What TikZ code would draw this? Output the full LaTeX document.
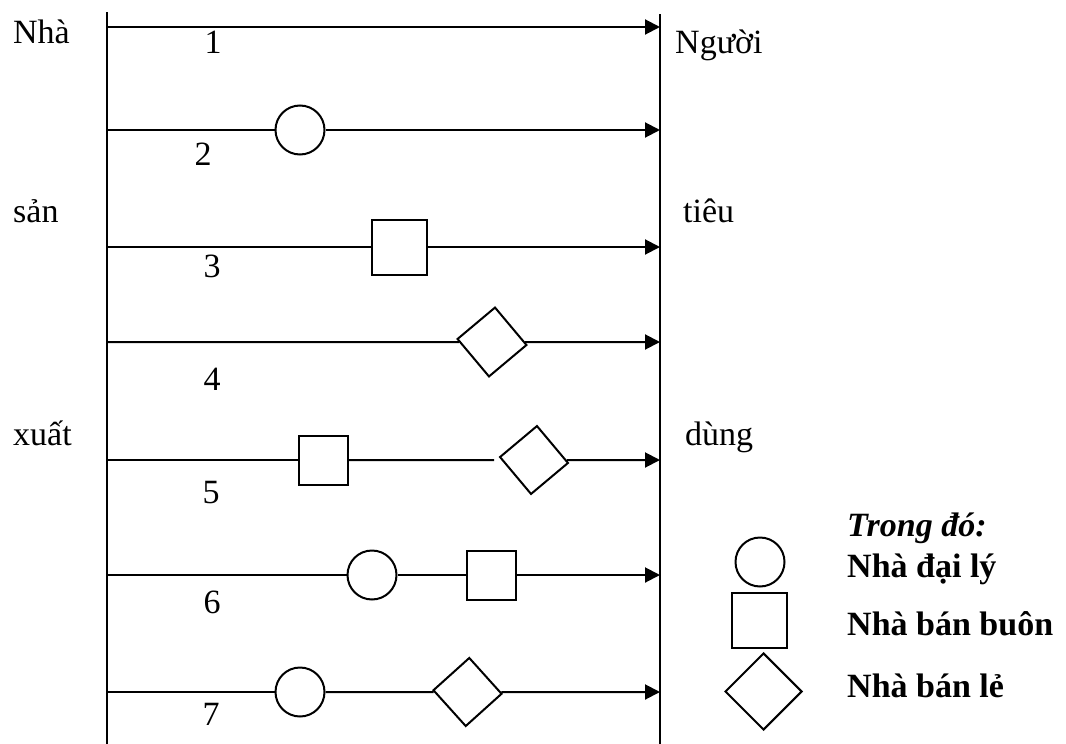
\documentclass[tikz,border=0pt]{standalone}
\usepackage{fontspec}
\setmainfont{Liberation Serif}
\usetikzlibrary{arrows.meta,shapes.geometric}
\begin{document}
\begin{tikzpicture}[x=1pt,y=-1pt,
  every node/.style={font=\fontsize{34}{40}\selectfont},
  ln/.style={line width=2pt},
  arr/.style={ln,-{Triangle[length=15pt,width=15pt]}},
  txt/.style={anchor=base west,inner sep=0pt},
  num/.style={anchor=base,inner sep=0pt},
  lgd/.style={anchor=base west,inner sep=0pt,font=\fontsize{34}{40}\selectfont\bfseries},
  circ/.style={circle,draw,ln,inner sep=0pt,minimum size=49pt},
  sq/.style={rectangle,draw,ln,inner sep=0pt,minimum size=#1},
  dia/.style={diamond,draw,ln,inner sep=0pt,minimum width=#1,minimum height=#1}]
\useasboundingbox (0,0) rectangle (1066,744);
% vertical lines
\coordinate (LT) at (107,12);
\coordinate (LB) at (107,744);
\coordinate (RT) at (660,14);
\coordinate (RB) at (660,744);
\draw[ln] (LT) -- (LB);
\draw[ln] (RT) -- (RB);
% row end points
\foreach \i/\y in {1/27,2/130,3/247,4/342,5/460,6/575,7/692}{
  \coordinate (L\i) at (107,\y);
  \coordinate (R\i) at (660,\y);
}
% side texts
\node[txt] (nha) at (13,43) {Nhà};
\node[txt] (san) at (13,222) {sản};
\node[txt] (xuat) at (13,445) {xuất};
\node[txt] (nguoi) at (675,53) {Người};
\node[txt] (tieu) at (683,222) {tiêu};
\node[txt] (dung) at (685,445) {dùng};
% numbers
\node[num] (n1) at (213,53) {1};
\node[num] (n2) at (203,165) {2};
\node[num] (n3) at (212,277) {3};
\node[num] (n4) at (212,390) {4};
\node[num] (n5) at (211,503) {5};
\node[num] (n6) at (212,613) {6};
\node[num] (n7) at (211,725) {7};
% shapes
\node[circ] (c2) at (300,130) {};
\node[sq=55pt] (s3) at (399,247) {};
\node[dia=70pt,rotate=-5] (d4) at (492,342) {};
\node[sq=49pt] (s5) at (323.5,460) {};
\node[dia=69pt,rotate=-5] (d5) at (534,460) {};
\node[circ] (c6) at (372,575) {};
\node[sq=49pt] (s6) at (491.5,575) {};
\node[circ] (c7) at (300,692) {};
\node[dia=69pt,rotate=-3] (d7) at (467.5,692) {};
% connectors
\draw[arr] (L1) -- (R1);
\draw[ln] (L2) -- (c2); \draw[arr] (c2) -- (R2);
\draw[ln] (L3) -- (s3); \draw[arr] (s3) -- (R3);
\draw[ln] (L4) -- (d4); \draw[arr] (d4) -- (R4);
\draw[ln] (L5) -- (s5); \draw[ln,shorten >=7pt] (s5) -- (d5); \draw[arr] (d5) -- (R5);
\draw[ln] (L6) -- (c6); \draw[ln] (c6) -- (s6); \draw[arr] (s6) -- (R6);
\draw[ln] (L7) -- (c7); \draw[ln] (c7) -- (d7); \draw[arr] (d7) -- (R7);
% legend
\node[circ] (lc) at (760,562) {};
\node[sq=55pt] (ls) at (759.5,620.5) {};
\node[dia=77pt] (ld) at (763.5,691.5) {};
\node[lgd] (lt0) at (847,536) {\textit{Trong đó:}};
\node[lgd] (lt1) at (847,577) {Nhà đại lý};
\node[lgd] (lt2) at (847,635) {Nhà bán buôn};
\node[lgd] (lt3) at (847,697) {Nhà bán lẻ};
\end{tikzpicture}
\end{document}
